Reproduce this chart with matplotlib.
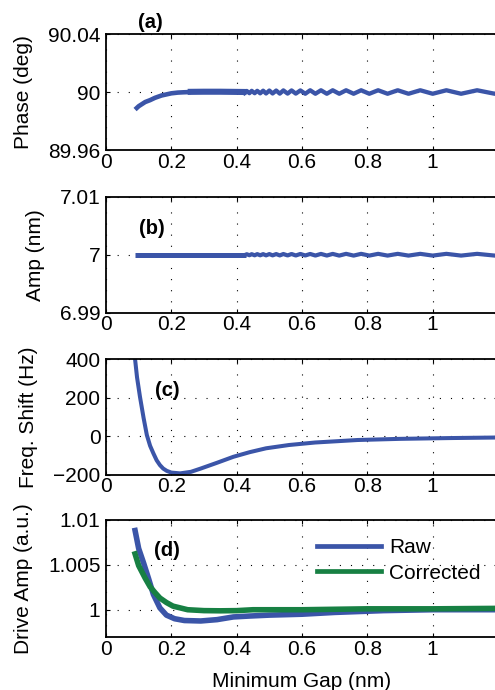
import matplotlib
matplotlib.use("Agg")
import matplotlib.pyplot as plt

plt.rcParams['font.family'] = ['Liberation Sans', 'DejaVu Sans']

BLUE = '#3b55a8'
GREEN = '#178043'

# (a) phase: smooth rise, dense band, then the slow wiggle
phase_gap = [0.089, 0.10, 0.12, 0.135, 0.15, 0.17, 0.186, 0.20, 0.22, 0.237, 0.26]
phase_val = [89.9879, 89.9902, 89.9931, 89.9944, 89.9960, 89.9976, 89.9984, 89.9991, 89.9996, 89.9998, 90.0000]
band_gap = [0.25, 0.30, 0.35, 0.43]
band_phase = [90.0001, 90.0002, 90.0002, 90.0000]

wiggle_gap = [0.424, 0.431, 0.439, 0.446, 0.455, 0.463, 0.472, 0.481, 0.490, 0.500,
              0.510, 0.521, 0.532, 0.543, 0.556, 0.568, 0.581, 0.595, 0.610, 0.625,
              0.641, 0.658, 0.676, 0.694, 0.714, 0.735, 0.758, 0.781, 0.806, 0.833,
              0.862, 0.893, 0.926, 0.962, 1.000, 1.042, 1.087, 1.136, 1.190, 1.250]
phase_wiggle = [89.9993, 90.0007, 89.9992, 90.0008, 89.9992, 90.0008, 89.9991, 90.0009, 89.9990, 90.0010,
                89.9990, 90.0010, 89.9989, 90.0011, 89.9989, 90.0011, 89.9989, 90.0011, 89.9988, 90.0012,
                89.9988, 90.0012, 89.9988, 90.0012, 89.9988, 90.0012, 89.9988, 90.0012, 89.9988, 90.0012,
                89.9988, 90.0012, 89.9988, 90.0012, 89.9988, 90.0012, 89.9988, 90.0012, 89.9988, 90.0012]

# (b) amplitude
amp_band_gap = [0.089, 0.20, 0.30, 0.43]
amp_band_val = [7.0, 7.0, 7.0, 7.0]
amp_wiggle = [6.99992, 7.00008, 6.99991, 7.00009, 6.99990, 7.00010, 6.99990, 7.00010, 6.99989, 7.00011,
              6.99989, 7.00011, 6.99988, 7.00012, 6.99988, 7.00012, 6.99987, 7.00013, 6.99987, 7.00013,
              6.99986, 7.00014, 6.99986, 7.00014, 6.99985, 7.00015, 6.99985, 7.00015, 6.99985, 7.00015,
              6.99985, 7.00015, 6.99985, 7.00015, 6.99985, 7.00015, 6.99985, 7.00015, 6.99985, 7.00015]

# (c) frequency shift
freq_gap = [0.087, 0.095, 0.104, 0.115, 0.125, 0.135, 0.145, 0.155, 0.165, 0.175, 0.186, 0.20,
            0.227, 0.26, 0.29, 0.34, 0.39, 0.44, 0.49, 0.56, 0.64, 0.77, 0.90, 1.05, 1.20]
freq_val = [430, 305, 204, 95, 6, -50, -89, -125, -150, -168, -180, -189,
            -193, -185, -168, -138, -107, -83, -63, -46, -33, -20, -14, -10, -7]

# (d) drive amplitude
raw_gap = [0.089, 0.10, 0.115, 0.13, 0.145, 0.165, 0.185, 0.21, 0.24, 0.29, 0.34, 0.39,
           0.44, 0.50, 0.60, 0.70, 0.85, 1.0, 1.2]
raw_val = [1.0088, 1.0068, 1.0052, 1.0035, 1.0017, 1.0002, 0.9994, 0.9990, 0.9988, 0.99875, 0.9989, 0.9992,
           0.9993, 0.9994, 0.9995, 0.9997, 0.9999, 1.0000, 1.0000]
corr_gap = [0.089, 0.10, 0.12, 0.135, 0.15, 0.165, 0.185, 0.205, 0.25, 0.30, 0.35, 0.40,
            0.45, 0.60, 0.80, 1.0, 1.2]
corr_val = [1.0062, 1.0049, 1.0035, 1.00255, 1.0019, 1.0013, 1.0008, 1.0004, 1.0000, 0.9999, 0.99988, 0.9999,
            1.0000, 1.0000, 1.0001, 1.0001, 1.00015]

FS = 15

fig = plt.figure(figsize=(4.95, 6.9), dpi=100)
left, width = 106 / 495, 392 / 495
bottoms = [0.7826, 0.5468, 0.3120, 0.0772]
heights = [0.1681, 0.1681, 0.1677, 0.1696]
axes = [fig.add_axes([left, b, width, h]) for b, h in zip(bottoms, heights)]

ax_a, ax_b, ax_c, ax_d = axes
ax_a.plot(phase_gap, phase_val, color=BLUE, lw=3.3, solid_capstyle='butt')
ax_a.plot(band_gap, band_phase, color=BLUE, lw=4.4, solid_capstyle='butt')
ax_a.plot(wiggle_gap, phase_wiggle, color=BLUE, lw=3.1)
ax_a.set_ylim(89.96, 90.04)
ax_a.set_yticks([89.96, 90, 90.04])
ax_a.set_yticklabels(['89.96', '90', '90.04'])
ax_a.set_ylabel('Phase (deg)')
ax_a.yaxis.set_label_coords(-0.186, 0.5)

ax_b.plot(amp_band_gap, amp_band_val, color=BLUE, lw=3.6, solid_capstyle='butt')
ax_b.plot(wiggle_gap, amp_wiggle, color=BLUE, lw=3.0)
ax_b.set_ylim(6.99, 7.01)
ax_b.set_yticks([6.99, 7, 7.01])
ax_b.set_yticklabels(['6.99', '7', '7.01'])
ax_b.set_ylabel('Amp (nm)')
ax_b.yaxis.set_label_coords(-0.156, 0.5)

ax_c.plot(freq_gap, freq_val, color=BLUE, lw=2.9)
ax_c.set_ylim(-200, 400)
ax_c.set_yticks([-200, 0, 200, 400])
ax_c.set_yticklabels(['\u2212200', '0', '200', '400'])
ax_c.set_ylabel('Freq. Shift (Hz)')
ax_c.yaxis.set_label_coords(-0.173, 0.5)

ax_d.plot(raw_gap, raw_val, color=BLUE, lw=4.0, label='Raw')
ax_d.plot(corr_gap, corr_val, color=GREEN, lw=4.0, label='Corrected')
ax_d.set_ylim(0.997, 1.01)
ax_d.set_yticks([1, 1.005, 1.01])
ax_d.set_yticklabels(['1', '1.005', '1.01'])
ax_d.set_ylabel('Drive Amp (a.u.)')
ax_d.yaxis.set_label_coords(-0.186, 0.5)
ax_d.set_xlabel('Minimum Gap (nm)', fontsize=FS)
ax_d.xaxis.set_label_coords(0.5, -0.30)
leg = ax_d.legend(loc='upper left', bbox_to_anchor=(0.538, 0.84), frameon=False, fontsize=FS,
                  handlelength=3.1, handletextpad=0.35, labelspacing=0.3, borderpad=0, borderaxespad=0)
for line in leg.get_lines():
    line.set_linewidth(3.4)

for ax in axes:
    ax.set_xlim(0, 1.2)
    ax.set_xticks([0, 0.2, 0.4, 0.6, 0.8, 1.0])
    ax.set_xticklabels(['0', '0.2', '0.4', '0.6', '0.8', '1'])
    ax.grid(True, color='black', linestyle=(0, (1, 9)), linewidth=0.8)
    ax.tick_params(direction='in', length=3, width=0.8, labelsize=FS, top=True, right=True)
    ax.tick_params(axis='x', pad=2)
    ax.tick_params(axis='y', pad=4)
    ax.yaxis.label.set_size(FS)
    for sp in ax.spines.values():
        sp.set_linewidth(1.3)

ax_a.text(0.112, 1.103, '(a)', transform=ax_a.transAxes, ha='center', va='center', fontsize=14.5, fontweight='bold')
ax_b.text(0.117, 0.73, '(b)', transform=ax_b.transAxes, ha='center', va='center', fontsize=14.5, fontweight='bold')
ax_c.text(0.156, 0.732, '(c)', transform=ax_c.transAxes, ha='center', va='center', fontsize=14.5, fontweight='bold')
ax_d.text(0.156, 0.741, '(d)', transform=ax_d.transAxes, ha='center', va='center', fontsize=14.5, fontweight='bold')

fig.savefig('out.png', dpi=100)
